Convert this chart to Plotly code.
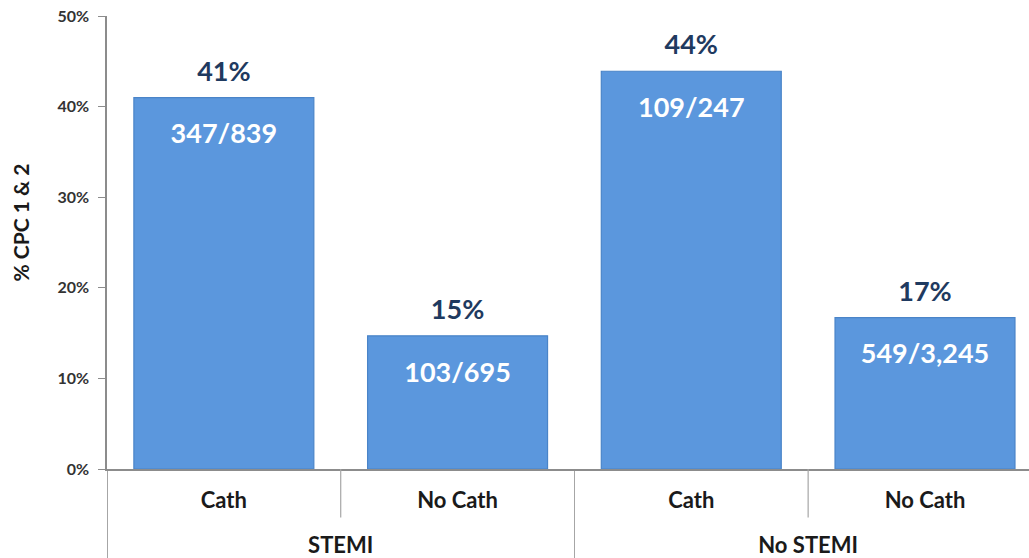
import plotly.graph_objects as go

groups = ["STEMI", "STEMI", "No STEMI", "No STEMI"]
cats = ["Cath", "No Cath", "Cath", "No Cath"]
values = [41.0, 14.7, 43.9, 16.7]
pct_labels = ["41%", "15%", "44%", "17%"]
frac_labels = ["347/839", "103/695", "109/247", "549/3,245"]

FONT = "Lato, 'Open Sans', sans-serif"
BAR = "#5b97dd"
NAVY = "#1f3a60"
GRID = "#a6a6a6"
LBL = "<span style='font-size:22px'>{}</span>"

x_range = [-0.5, 3.445]
x = [["<br><br>" + LBL.format(g) for g in groups], [LBL.format(c) for c in cats]]

fig = go.Figure()
fig.add_trace(go.Bar(
    x=x, y=values, width=0.77,
    marker=dict(color=BAR, line=dict(color="#4a84c8", width=1.2)),
    hoverinfo="skip", showlegend=False,
))
# percentage labels above bars
fig.add_trace(go.Scatter(
    x=x, y=[v + 2.6 for v in values], mode="text", text=pct_labels,
    textposition="middle center",
    textfont=dict(family=FONT, size=27, color=NAVY, weight="bold"),
    showlegend=False, hoverinfo="skip",
))
# fraction labels inside bars
fig.add_trace(go.Scatter(
    x=x, y=[v - 4.3 for v in values], mode="text", text=frac_labels,
    textposition="middle center",
    textfont=dict(family=FONT, size=27, color="white", weight="bold"),
    showlegend=False, hoverinfo="skip",
))

# short separators between inner categories
span = x_range[1] - x_range[0]
for b in [0.5, 2.5]:
    px = (b - x_range[0]) / span
    fig.add_shape(type="line", xref="paper", yref="paper", x0=px, x1=px,
                  y0=0, y1=-0.107, line=dict(color=GRID, width=1.2))

fig.add_annotation(
    text="% CPC 1 & 2", textangle=-90, xref="paper", yref="paper",
    x=-0.094, y=0.545, xanchor="center", yanchor="middle", showarrow=False,
    font=dict(family=FONT, size=21, color="#1a1a1a", weight="bold"),
)

fig.update_layout(
    width=1029, height=558,
    margin=dict(l=107, r=0, t=16, b=89),
    paper_bgcolor="white", plot_bgcolor="white",
    font=dict(family=FONT),
    showlegend=False,
    xaxis=dict(
        type="multicategory", range=x_range, automargin=False,
        showline=True, linecolor="#8c8c8c", linewidth=1.5,
        ticks="", ticklabelstandoff=20,
        showdividers=True, dividercolor=GRID, dividerwidth=1.2,
        tickfont=dict(family=FONT, size=14, color="#1a1a1a", weight="bold"),
        showgrid=False,
    ),
    yaxis=dict(
        range=[0, 50], dtick=10, ticksuffix="%",
        automargin=False, ticklabeloverflow="allow",
        showline=True, linecolor="#8c8c8c", linewidth=1.5,
        ticks="outside", ticklen=7, tickcolor="#8c8c8c",
        ticklabelstandoff=6,
        tickfont=dict(family=FONT, size=16, color="#333333", weight="bold"),
        showgrid=False, zeroline=False,
    ),
)

# remove the default 8px page margin so the figure fills the window exactly
fig.write_html("out.html", config={"displayModeBar": False},
               post_script="document.body.style.margin='0';")
